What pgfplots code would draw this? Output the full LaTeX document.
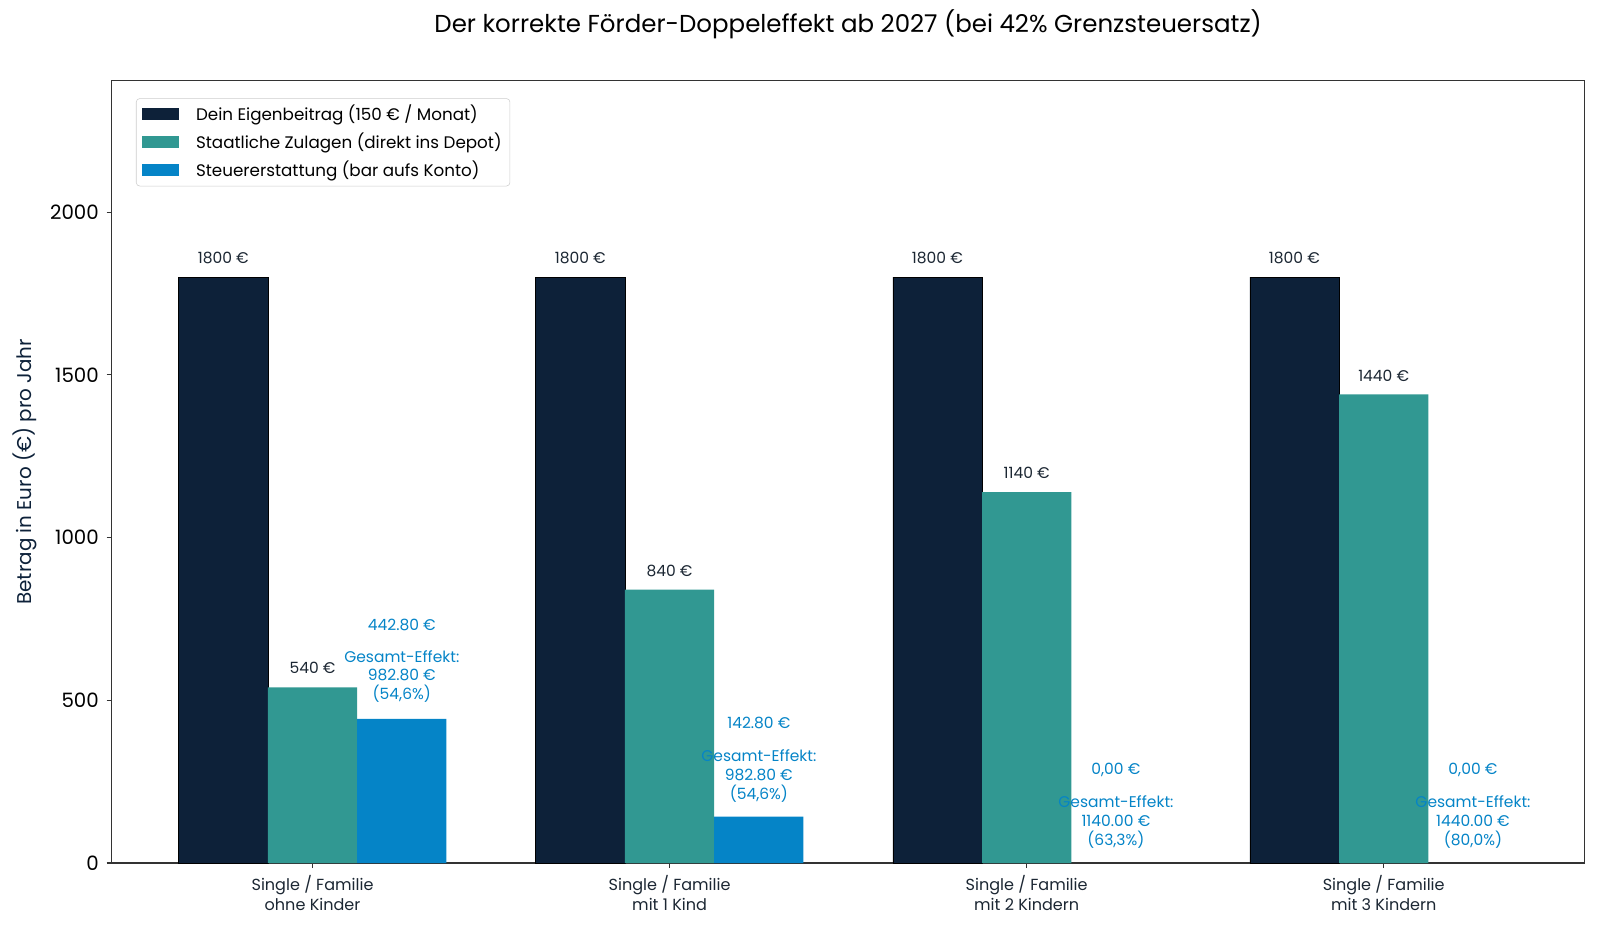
\documentclass[border=0pt]{standalone}
\usepackage{pgfplots}
\pgfplotsset{compat=1.18}
\usepackage{fontspec}
\setmainfont{Poppins}
\definecolor{cdark}{HTML}{0D2139}
\definecolor{cteal}{HTML}{319892}
\definecolor{cblue}{HTML}{0584C7}
\definecolor{ctext}{HTML}{1C2733}
\begin{document}
\begin{tikzpicture}
\useasboundingbox (0in,0in) rectangle (16in,9.28in);
\begin{axis}[
  at={(1.117in,0.65in)}, anchor=south west,
  scale only axis, width=14.728in, height=7.823in,
  xmin=-0.5625, xmax=3.5625, ymin=0, ymax=2404,
  axis line style={color=black!80, line width=0.8pt},
  xtick={0,1,2,3},
  xticklabels={{Single / Familie\\ohne Kinder},{Single / Familie\\mit 1 Kind},{Single / Familie\\mit 2 Kindern},{Single / Familie\\mit 3 Kindern}},
  xticklabel style={align=center, font=\fontsize{11.6}{14.9}\selectfont, text=ctext, yshift=-0.02in},
  ytick={0,500,1000,1500,2000},
  yticklabel style={font=\fontsize{14.3}{16}\selectfont, text=black, xshift=-0.03in},
  /pgf/number format/assume math mode=true,
  /pgf/number format/1000 sep={},
  tick align=outside, tick style={color=black!80, line width=0.8pt}, major tick length=0.05in,
  xtick pos=bottom, ytick pos=left,
  title={Der korrekte Förder-Doppeleffekt ab 2027 (bei 42\% Grenzsteuersatz)},
  title style={at={(0.5,1)}, anchor=center, yshift=0.48in, font=\fontsize{17.7}{20}\selectfont, text=black},
  ylabel={Betrag in Euro (€) pro Jahr},
  ylabel style={at={(axis description cs:-0.0589,0.5)}, anchor=center, font=\fontsize{14.4}{16}\selectfont, text=cdark},
  ybar, bar width=0.25, bar shift=0pt,
  legend style={at={(axis description cs:0.0165,0.9775)}, anchor=north west, draw=black!20, rounded corners=2.5pt, font=\fontsize{12.1}{14}\selectfont, row sep=4.1pt, inner xsep=4pt, inner ysep=3.5pt, cells={anchor=west, inner sep=0pt, text height=10.5pt, text depth=4.5pt}},
  legend image code/.code={\fill[#1, draw=none, sharp corners] (0in,-0.06in) rectangle (0.367in,0.06in); \path[draw=none, fill=none] (0in,0in) -- (0.515in,0in);},
  nodes near coords={\pgfmathprintnumber[fixed,precision=0]{\pgfplotspointmeta}~€},
  nodes near coords style={font=\fontsize{11.2}{13}\selectfont, text=ctext, anchor=center, yshift=0.19in},
]
\addplot[fill=cdark, draw=black, line width=0.3pt] coordinates {(-0.25,1800) (0.75,1800) (1.75,1800) (2.75,1800)};
\addlegendentry{Dein Eigenbeitrag (150 € / Monat)}
\addplot[fill=cteal, draw=none] coordinates {(0,540) (1,840) (2,1140) (3,1440)};
\addlegendentry{Staatliche Zulagen (direkt ins Depot)}
\addplot[fill=cblue, draw=none, nodes near coords={}] coordinates {(0.25,442.8) (1.25,142.8)};
\addlegendentry{Steuererstattung (bar aufs Konto)}
\begin{scope}[font=\fontsize{11.2}{13.5}\selectfont, text=cblue]
\node at (axis cs:0.25,730) {442.80 €};
\node[align=center] at (axis cs:0.25,574) {Gesamt-Effekt:\\982.80 €\\(54,6\%)};
\node at (axis cs:1.25,430) {142.80 €};
\node[align=center] at (axis cs:1.25,267) {Gesamt-Effekt:\\982.80 €\\(54,6\%)};
\node at (axis cs:2.25,285) {0,00 €};
\node[align=center] at (axis cs:2.25,126) {Gesamt-Effekt:\\1140.00 €\\(63,3\%)};
\node at (axis cs:3.25,285) {0,00 €};
\node[align=center] at (axis cs:3.25,126) {Gesamt-Effekt:\\1440.00 €\\(80,0\%)};
\end{scope}
\end{axis}
\end{tikzpicture}
\end{document}
